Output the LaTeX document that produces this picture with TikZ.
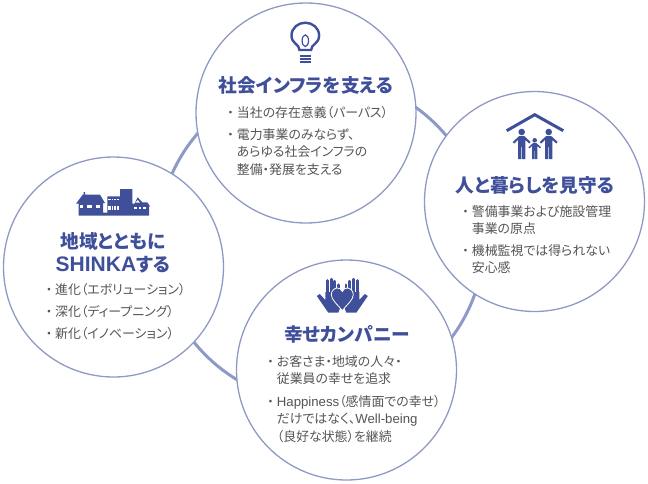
\documentclass[tikz,border=0pt]{standalone}
\usepackage{fontspec}
\setmainfont[RawFeature=+palt]{Noto Sans CJK JP}
\newfontfamily\latinfont{Liberation Sans}
\definecolor{ringblue}{HTML}{8F99C6}
\definecolor{titleblue}{HTML}{3F4F9A}
\definecolor{bodygrey}{HTML}{555555}
\newcommand{\bul}{\llap{・\hspace{3pt}}}
\newcommand{\latintitle}[1]{{\latinfont\fontsize{21}{23}\selectfont #1}}
\newcommand{\latinbody}[1]{{\latinfont\fontsize{13.2}{17.5}\selectfont #1}}
\tikzset{
	bigcircle/.style={draw=ringblue,line width=1.3pt,circle,fill=white,minimum size=220pt,inner sep=0pt},
	titletext/.style={text=titleblue,font=\fontsize{18.7}{23}\selectfont\bfseries,align=center,inner sep=0pt},
	bodytext/.style={text=bodygrey,font=\fontsize{12.9}{17.5}\selectfont,align=left,anchor=north west,inner sep=0pt},
	pics/person/.style={code={
		\fill[titleblue] (0,0) circle (3.3);
		\fill[titleblue] (-2.5,4) -- (2.5,4) -- (9,10) -- (7.5,11.5) -- (3.7,8) -- (3.7,27) -- (0.4,27) -- (0.4,15) -- (-0.4,15) -- (-0.4,27) -- (-3.7,27) -- (-3.7,8) -- (-7.5,11.5) -- (-9,10) -- cycle;
	}},
	pics/hand/.style={code={
		\fill[titleblue] (-17,300) -- (-22.5,294) -- (-25.5,296) -- (-14,312.7) -- (-4,312.7) -- (-1.5,306) -- (-1.5,292) -- (-17,292) -- cycle;
		\draw[titleblue,line width=2.8pt,line cap=round] (-15,295) -- (-15,280.5);
		\draw[titleblue,line width=2.8pt,line cap=round] (-11.2,295) -- (-11.2,279.2);
		\draw[titleblue,line width=2.8pt,line cap=round] (-7.5,295) -- (-7.5,281.2);
		\draw[titleblue,line width=2.8pt,line cap=round] (-3.6,295) -- (-3.6,284.8);
	}},
}
\begin{document}
\begin{tikzpicture}[x=1pt,y=-1pt]
	\useasboundingbox (0,0) rectangle (648,483);
	% ring behind
	\node[draw=ringblue,line width=3pt,circle,minimum size=326pt,inner sep=0pt] (ring) at (321,240) {};
	% circles
	\node[bigcircle] (top) at (306,113) {};
	\node[bigcircle] (right) at (534.5,201.5) {};
	\node[bigcircle] (left) at (113.5,267) {};
	\node[bigcircle] (bottom) at (346.5,370) {};
	% titles
	\node[titletext] (toptitle) at (306,85.5) {社会インフラを支える};
	\node[titletext] (righttitle) at (535,185.5) {人と暮らしを見守る};
	\node[titletext] (lefttitle) at (113,252.5) {地域とともに\\\latintitle{SHINKA}する};
	\node[titletext] (bottomtitle) at (347,334.5) {幸せカンパニー};
	% texts
	\node[bodytext] (top1) at (236.7,106.5) {\bul 当社の存在意義（パーパス）};
	\node[bodytext] (top2) at (236.7,128) {\bul 電力事業のみならず、\\あらゆる社会インフラの\\整備・発展を支える};
	\node[bodytext] (right1) at (471.7,205.2) {\bul 警備事業および施設管理\\事業の原点};
	\node[bodytext] (right2) at (471.7,244.2) {\bul 機械監視では得られない\\安心感};
	\node[bodytext] (left1) at (55,283.5) {\bul 進化（エボリューション）};
	\node[bodytext] (left2) at (55,305.2) {\bul 深化（ディープニング）};
	\node[bodytext] (left3) at (55,326.8) {\bul 新化（イノベーション）};
	\node[bodytext] (bottom1) at (276.7,355.2) {\bul お客さま・地域の人々・\\従業員の幸せを追求};
	\node[bodytext] (bottom2) at (276.7,395.2) {\bul \latinbody{Happiness}（感情面での幸せ）\\だけではなく、\latinbody{Well-being}\\（良好な状態）を継続};
	% bulb
	\draw[titleblue,line width=2.4pt] (299.5,50) .. controls (299.5,44) and (291.5,44) .. (291.5,35.5) .. controls (291.5,28) and (298,22.7) .. (305.3,22.7) .. controls (312.6,22.7) and (319.1,28) .. (319.1,35.5) .. controls (319.1,44) and (311.1,44) .. (311.1,50) -- cycle;
	\draw[titleblue,line width=1.2pt] (305.3,40.7) ellipse (3.2 and 5.8);
	\fill[titleblue] (300,55) rectangle (310.7,57.2);
	\fill[titleblue] (300,58.3) rectangle (310.7,60);
	\fill[titleblue] (300,61) rectangle (310.7,63.3);
	% house and family
	\draw[titleblue,line width=3pt] (506.7,130.7) -- (534.7,114.7) -- (563.3,130.7);
	\pic at (521.7,132) {person};
	\pic at (548.7,132) {person};
	\pic[scale=0.7] at (534.7,140.3) {person};
	% buildings
	\fill[titleblue] (78.5,215.5) -- (78.5,203.7) -- (76,203.7) -- (82.7,194.7) -- (83.5,194.7) -- (83.5,192) -- (85,192) -- (85,194.7) -- (100,194.7) -- (105,203) -- (103,203) -- (103,212.5) -- (107.3,212.5) -- (107.3,196.3) -- (120,196.3) -- (120,189) -- (132.3,189) -- (132.3,203.7) -- (134.5,203.7) -- (137.7,197.3) -- (142.3,202.3) -- (147.3,202.3) -- (150,206.3) -- (149,206.3) -- (149,215.5) -- cycle;
	\fill[white] (80,204.7) rectangle (83.3,208);
	\fill[white] (87.3,204.7) rectangle (91.7,208);
	\fill[white] (95.7,204.7) rectangle (100,208);
	\fill[white] (108.3,198.7) rectangle (119.3,200.3);
	\fill[white] (108.3,206.3) rectangle (119.3,210.3);
	\foreach \winx in {111,113.7,116.4} {
		\draw[titleblue,line width=0.5pt] (\winx,198.7) -- (\winx,200.3);
		\draw[titleblue,line width=0.5pt] (\winx,206.3) -- (\winx,210.3);
	}
	\fill[white] (137.7,200) -- (135.4,202.6) -- (140,202.6) -- cycle;
	\fill[white] (134.3,207.3) rectangle (137,209);
	\fill[white] (138.7,207.3) rectangle (141.3,209);
	\fill[white] (143,207.3) rectangle (146,209);
	% hands and heart
	\pic at (342.3,0) {hand};
	\pic[xscale=-1] at (342.3,0) {hand};
	\draw[white,line width=0.8pt,fill=titleblue] (342.3,310.7) .. controls (337.3,304) and (331.3,300) .. (331.3,294.5) .. controls (331.3,290) and (335.3,288) .. (337.3,288) .. controls (339.3,288) and (341.3,289) .. (342.3,291.5) .. controls (343.3,289) and (345.3,288) .. (347.3,288) .. controls (349.3,288) and (353.3,290) .. (353.3,294.5) .. controls (353.3,300) and (347.3,304) .. (342.3,310.7) -- cycle;
\end{tikzpicture}
\end{document}
